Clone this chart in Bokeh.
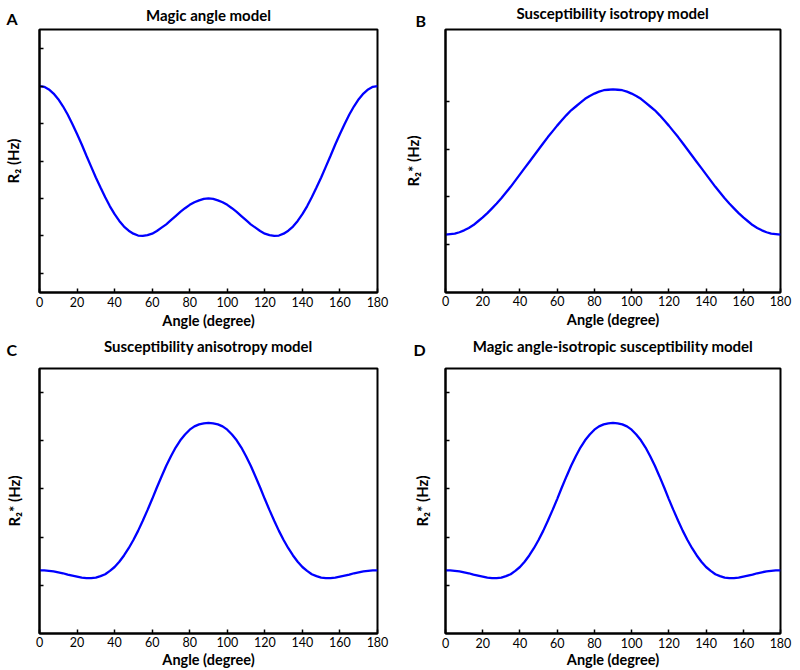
from bokeh.plotting import figure
from bokeh.layouts import gridplot
from bokeh.models import Range1d, FixedTicker, Title, LinearAxis
from bokeh.embed import file_html
from bokeh.resources import INLINE

# ---------------- data ----------------
# sampled every 2.5 degrees from 0 to 180
angles = [i * 2.5 for i in range(73)]

r2_magic = [6.00, 5.98, 5.91, 5.80, 5.65, 5.46, 5.24, 4.99, 4.72, 4.44,
            4.14, 3.85, 3.56, 3.29, 3.03, 2.79, 2.58, 2.40, 2.25, 2.14,
            2.06, 2.01, 2.00, 2.02, 2.06, 2.13, 2.22, 2.31, 2.42, 2.53,
            2.64, 2.74, 2.83, 2.90, 2.95, 2.99, 3.00,
            2.99, 2.95, 2.90, 2.83, 2.74, 2.64, 2.53, 2.42, 2.31, 2.22,
            2.13, 2.06, 2.02, 2.00, 2.01, 2.06, 2.14, 2.25, 2.40, 2.58,
            2.79, 3.03, 3.29, 3.56, 3.85, 4.14, 4.44, 4.72, 4.99, 5.24,
            5.46, 5.65, 5.80, 5.91, 5.98, 6.00]

r2s_isotropy = [1.21, 1.22, 1.23, 1.26, 1.30, 1.35, 1.41, 1.49, 1.57, 1.66,
                1.76, 1.86, 1.97, 2.09, 2.21, 2.34, 2.47, 2.60, 2.73, 2.86,
                2.99, 3.12, 3.25, 3.37, 3.49, 3.60, 3.71, 3.81, 3.89, 3.97,
                4.05, 4.11, 4.16, 4.20, 4.23, 4.24, 4.25,
                4.24, 4.23, 4.20, 4.16, 4.11, 4.05, 3.97, 3.89, 3.81, 3.71,
                3.60, 3.49, 3.37, 3.25, 3.12, 2.99, 2.86, 2.73, 2.60, 2.47,
                2.34, 2.21, 2.09, 1.97, 1.86, 1.76, 1.66, 1.57, 1.49, 1.41,
                1.35, 1.30, 1.26, 1.23, 1.22, 1.21]

r2s_anisotropy = [1.31, 1.31, 1.30, 1.29, 1.27, 1.25, 1.22, 1.20, 1.18, 1.16,
                  1.15, 1.15, 1.16, 1.19, 1.23, 1.30, 1.38, 1.49, 1.62, 1.77,
                  1.94, 2.13, 2.34, 2.56, 2.79, 3.03, 3.26, 3.48, 3.68, 3.86,
                  4.01, 4.13, 4.23, 4.30, 4.34, 4.36, 4.37,
                  4.36, 4.34, 4.30, 4.23, 4.13, 4.01, 3.86, 3.68, 3.48, 3.26,
                  3.03, 2.79, 2.56, 2.34, 2.13, 1.94, 1.77, 1.62, 1.49, 1.38,
                  1.30, 1.23, 1.19, 1.16, 1.15, 1.15, 1.16, 1.18, 1.20, 1.22,
                  1.25, 1.27, 1.29, 1.30, 1.31, 1.31]

r2s_magic_iso = [1.31, 1.31, 1.30, 1.29, 1.27, 1.25, 1.22, 1.20, 1.18, 1.16,
                 1.15, 1.15, 1.16, 1.19, 1.23, 1.30, 1.38, 1.49, 1.62, 1.77,
                 1.94, 2.13, 2.34, 2.56, 2.79, 3.03, 3.26, 3.48, 3.68, 3.86,
                 4.01, 4.13, 4.23, 4.30, 4.34, 4.36, 4.37,
                 4.36, 4.34, 4.30, 4.23, 4.13, 4.01, 3.86, 3.68, 3.48, 3.26,
                 3.03, 2.79, 2.56, 2.34, 2.13, 1.94, 1.77, 1.62, 1.49, 1.38,
                 1.30, 1.23, 1.19, 1.16, 1.15, 1.15, 1.16, 1.18, 1.20, 1.22,
                 1.25, 1.27, 1.29, 1.30, 1.31, 1.31]

x_ticks = [0, 20, 40, 60, 80, 100, 120, 140, 160, 180]
yticks_a = [1, 2, 3, 4, 5, 6, 7]
yticks_b = [1, 2, 3, 4]
yticks_cd = [1, 2, 3, 4, 5]

titles = ["Magic angle model", "Susceptibility isotropy model",
          "Susceptibility anisotropy model",
          "Magic angle-isotropic susceptibility model"]
letters = ["A", "B", "C", "D"]
ylabels = ["R\u2082 (Hz)", "R\u2082* (Hz)", "R\u2082* (Hz)", "R\u2082* (Hz)"]
xlabel = "Angle (degree)"

FONT = "Lato"
W = 400


def make_panel(vals, title, letter, ylabel, yrange, yticks, height,
               borders, ylab_so, xtick_so, xlab_so,
               letter_valign, letter_so, letter_off, title_so):
    bl, br, bt, bb = borders
    p = figure(width=W, height=height, x_range=Range1d(0, 180),
               y_range=Range1d(*yrange), output_backend="svg",
               toolbar_location=None, title=None, min_border_left=bl,
               min_border_right=br, min_border_top=bt, min_border_bottom=bb)
    p.background_fill_color = "white"
    p.border_fill_color = "white"
    p.grid.visible = False
    p.outline_line_color = "black"
    p.outline_line_width = 2
    p.outline_line_alpha = 1

    p.line(angles, vals, line_color="#0000ff", line_width=2.3)

    xa = p.xaxis[0]
    xa.ticker = FixedTicker(ticks=x_ticks, minor_ticks=[])
    xa.axis_line_width = 2
    xa.axis_line_color = "black"
    xa.major_tick_in = 4
    xa.major_tick_out = 0
    xa.major_tick_line_width = 1.5
    xa.minor_tick_in = 0
    xa.minor_tick_out = 0
    xa.major_label_text_font = FONT
    xa.major_label_text_font_size = "12.5px"
    xa.major_label_text_color = "black"
    xa.major_label_standoff = xtick_so
    xa.axis_label = xlabel
    xa.axis_label_text_font = FONT
    xa.axis_label_text_font_size = "14.5px"
    xa.axis_label_text_font_style = "bold"
    xa.axis_label_text_color = "black"
    xa.axis_label_standoff = xlab_so

    ya = p.yaxis[0]
    ya.ticker = FixedTicker(ticks=yticks, minor_ticks=[])
    ya.axis_line_width = 2
    ya.axis_line_color = "black"
    ya.major_tick_in = 4
    ya.major_tick_out = 0
    ya.major_tick_line_width = 1.5
    ya.minor_tick_in = 0
    ya.minor_tick_out = 0
    ya.major_label_overrides = {t: "" for t in yticks}
    ya.major_label_text_font_size = "0px"
    ya.major_label_standoff = 0
    ya.axis_label = ylabel
    ya.axis_label_text_font = FONT
    ya.axis_label_text_font_size = "15px"
    ya.axis_label_text_font_style = "bold"
    ya.axis_label_text_color = "black"
    ya.axis_label_standoff = ylab_so

    # panel letter (nearest band above the frame)
    p.add_layout(Title(text=letter, align="left", vertical_align=letter_valign,
                       offset=letter_off, text_font=FONT,
                       text_font_size="16px", text_font_style="bold",
                       text_color="black", standoff=letter_so), "above")
    # panel title: label of a bare top axis, pulled down to the letter's line
    top = LinearAxis(ticker=FixedTicker(ticks=[], minor_ticks=[]),
                     axis_label=title, axis_line_color=None,
                     major_tick_in=0, major_tick_out=0,
                     minor_tick_in=0, minor_tick_out=0,
                     major_label_text_font_size="0px",
                     major_label_standoff=0,
                     axis_label_standoff=title_so,
                     axis_label_text_font=FONT,
                     axis_label_text_font_size="15px",
                     axis_label_text_font_style="bold",
                     axis_label_text_color="black")
    p.add_layout(top, "above")
    return p


pA = make_panel(r2_magic, titles[0], letters[0], ylabels[0], (0.49, 7.51),
                yticks_a, 331, (39, 23, 25, 39), 18, 4, 2,
                "middle", 2, -33, -17)
pB = make_panel(r2s_isotropy, titles[1], letters[1], ylabels[1], (0, 5.5),
                yticks_b, 331, (42, 20, 27, 37), 24, 3, 2,
                "bottom", 0, -30, -13)
pC = make_panel(r2s_anisotropy, titles[2], letters[2], ylabels[2], (0, 5.5),
                yticks_cd, 339, (38, 23, 37, 36), 17, 3, 1,
                "top", 15, -33, -22)
pD = make_panel(r2s_magic_iso, titles[3], letters[3], ylabels[3], (0, 5.5),
                yticks_cd, 339, (42, 20, 37, 36), 15, 4, 0,
                "top", 15, -32, -22)

grid = gridplot([[pA, pB], [pC, pD]], toolbar_location=None)

open("out.html", "w").write(file_html(grid, INLINE))
